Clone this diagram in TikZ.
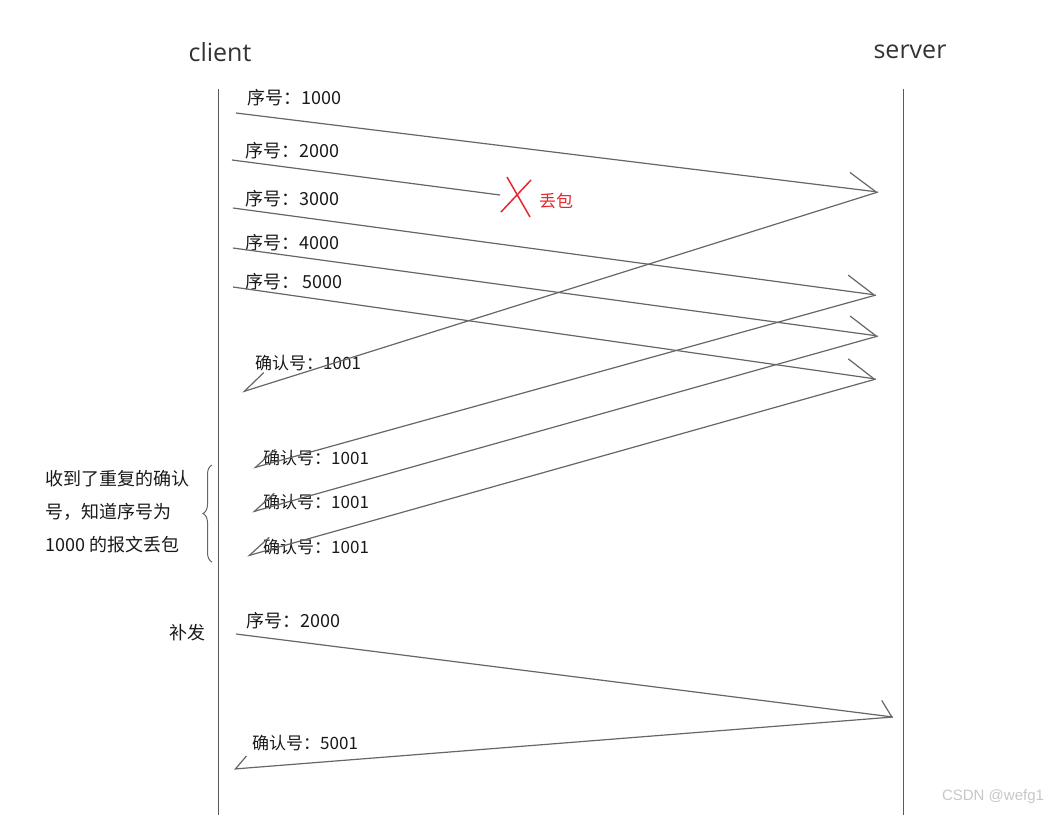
\documentclass[tikz,border=0pt]{standalone}
\usepackage{fontspec}
\setmainfont{Noto Sans CJK SC}
\newfontfamily\hostfont{Open Sans}
\newfontfamily\markfont{Liberation Sans}
\usetikzlibrary{arrows.meta,decorations.pathreplacing}

\definecolor{lossred}{HTML}{E8262D}

\tikzstyle{host} = [font=\hostfont\fontsize{25}{28}\selectfont, text=black!80, inner sep=0pt]
\tikzstyle{lifeline} = [draw=black!65, line width=1pt]
\tikzstyle{seqtext} = [font=\fontsize{18}{21}\selectfont, text=black!90, inner sep=0pt, anchor=west]
\tikzstyle{acktext} = [font=\fontsize{17}{20}\selectfont, text=black!90, inner sep=0pt, anchor=west]
\tikzstyle{send} = [draw=black!60, line width=1.2pt, -{Straight Barb[left, length=28pt, width=32pt]}]
\tikzstyle{reply} = [draw=black!60, line width=1.2pt, -{Straight Barb[right, length=24pt, width=24pt]}]
\tikzstyle{dropped} = [draw=black!60, line width=1.2pt]
\tikzstyle{cross} = [draw=lossred, line width=1.5pt]

\begin{document}
\begin{tikzpicture}[x=1pt, y=-1pt]
	\useasboundingbox (0,0) rectangle (1062,815);
	% Place nodes
	\node [host] (Client) at (220,52) {client};
	\node [host] (Server) at (910,52) {server};
	\coordinate (ClientTop) at (218,89);
	\coordinate (ClientBottom) at (218,815);
	\coordinate (ServerTop) at (903,89);
	\coordinate (ServerBottom) at (903,815);
	% sent segments
	\node [seqtext] (Seq1000) at (247,98) {序号：1000};
	\node [seqtext] (Seq2000) at (245,151) {序号：2000};
	\node [seqtext] (Seq3000) at (245,199) {序号：3000};
	\node [seqtext] (Seq4000) at (245,243) {序号：4000};
	\node [seqtext] (Seq5000) at (245,282) {序号：\,5000};
	\coordinate (C1000) at (236,113);
	\coordinate (C2000) at (232,160);
	\coordinate (C3000) at (233,208);
	\coordinate (C4000) at (233,248);
	\coordinate (C5000) at (233,287);
	\coordinate (S1000) at (878,192);
	\coordinate (Lost2000) at (500,195);
	\coordinate (S3000) at (876,295);
	\coordinate (S4000) at (878,336);
	\coordinate (S5000) at (876,379);
	% lost packet
	\coordinate (CrossA) at (507,177);
	\coordinate (CrossB) at (530,217);
	\coordinate (CrossC) at (531,180);
	\coordinate (CrossD) at (501,212);
	\node [font=\fontsize{17}{20}\selectfont, text=lossred, inner sep=0pt, anchor=west] (Loss) at (539,201) {丢包};
	% acknowledgements
	\node [acktext] (Ack1) at (255,363) {确认号：1001};
	\node [acktext] (Ack2) at (263,458) {确认号：1001};
	\node [acktext] (Ack3) at (263,502) {确认号：1001};
	\node [acktext] (Ack4) at (263,547) {确认号：1001};
	\coordinate (A1) at (242,392);
	\coordinate (A2) at (253,468);
	\coordinate (A3) at (252,512);
	\coordinate (A4) at (247,556);
	% duplicate note
	\coordinate (BraceBottom) at (212,562);
	\coordinate (BraceTop) at (212,465);
	\node [font=\fontsize{18}{33}\selectfont, text=black!90, inner sep=0pt, anchor=west, align=left] (DupNote) at (45,512) {收到了重复的确认\\号，知道序号为\\1000 的报文丢包};
	% retransmission
	\node [seqtext] (Resend) at (169,633) {补发};
	\node [seqtext] (Seq2000b) at (246,621) {序号：2000};
	\node [acktext] (Ack5001) at (252,743) {确认号：5001};
	\coordinate (C2000b) at (236,634);
	\coordinate (S2000b) at (893,717);
	\coordinate (A5001) at (234,769);
	\node [font=\markfont\fontsize{15}{18}\selectfont, text=black!22, inner sep=0pt] (Mark) at (993,797) {CSDN @wefg1};
	% Draw edges
	\draw [lifeline] (ClientTop) -- (ClientBottom);
	\draw [lifeline] (ServerTop) -- (ServerBottom);
	\draw [send] (C1000) -- (S1000);
	\draw [dropped] (C2000) -- (Lost2000);
	\draw [send] (C3000) -- (S3000);
	\draw [send] (C4000) -- (S4000);
	\draw [send] (C5000) -- (S5000);
	\draw [cross] (CrossA) -- (CrossB);
	\draw [cross] (CrossC) -- (CrossD);
	\draw [reply] (S1000) -- (A1);
	\draw [reply] (S3000) -- (A2);
	\draw [reply] (S4000) -- (A3);
	\draw [reply] (S5000) -- (A4);
	\draw [draw=black!60, line width=1pt, decorate, decoration={brace, amplitude=9pt}] (BraceBottom) -- (BraceTop);
	\draw [send, -{Straight Barb[left, length=12pt, width=30pt]}] (C2000b) -- (S2000b);
	\draw [reply, -{Straight Barb[right, length=12pt, width=24pt]}] (S2000b) -- (A5001);
\end{tikzpicture}
\end{document}
